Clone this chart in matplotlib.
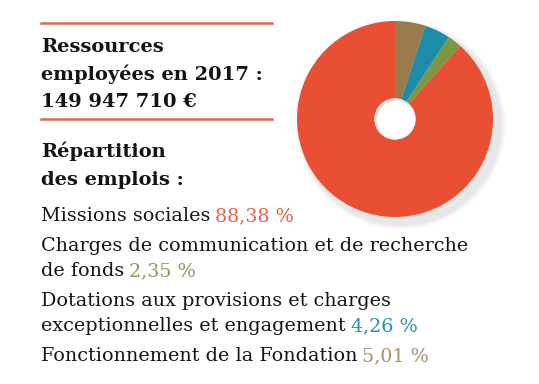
"""Ressources employées 2017 - donut + texte."""
import matplotlib
matplotlib.use("Agg")
import matplotlib.pyplot as plt
from matplotlib.patches import Circle

# Data (ordre de dessin : sens horaire depuis midi)
labels = [
    "Fonctionnement de la Fondation",
    "Dotations aux provisions et charges\nexceptionnelles et engagement",
    "Charges de communication et de recherche\nde fonds",
    "Missions sociales",
]
values = [5.01, 4.26, 2.35, 88.38]
pct_labels = ["5,01 %", "4,26 %", "2,35 %", "88,38 %"]
slice_colors = ["#9a7b4b", "#1d8ca9", "#7a983f", "#e84f33"]
text_colors = ["#a8916a", "#2a90a8", "#8a9a5b", "#e8604a"]

W, H = 539, 384
fig = plt.figure(figsize=(W / 100, H / 100), dpi=100)
fig.patch.set_facecolor("white")

FONT = "DejaVu Serif"
line_color = "#dc6a50"


def fx(px):
    return px / W


def fy(py):
    return 1 - py / H


# Donut
cx, cy, r = 395, 119, 98
pad = 12
ax = fig.add_axes([fx(cx - r - pad), fy(cy + r + pad), 2 * (r + pad) / W, 2 * (r + pad) / H])
ax.axis("off")
# ombre douce
for s, a in [(1.07, 0.025), (1.05, 0.03), (1.03, 0.04)]:
    ax.add_patch(Circle((0.06, -0.06), s, color="#000000", alpha=a, lw=0, zorder=0))
ax.pie(values, colors=slice_colors, startangle=90, counterclock=False,
       radius=1.0, wedgeprops=dict(width=0.79, linewidth=0))
ax.add_patch(Circle((0, 0), 0.21, color="#e6e6e6", lw=0, zorder=5))
ax.add_patch(Circle((0.01, -0.01), 0.195, color="white", lw=0, zorder=6))
lim = (r + pad) / r
ax.set_xlim(-lim, lim)
ax.set_ylim(-lim, lim)

# Lignes décoratives
for y in [23, 119]:
    fig.add_artist(plt.Line2D([fx(41), fx(272)], [fy(y), fy(y)], color=line_color, lw=1.8))

# Titres
title_kw = dict(fontsize=14, fontweight="bold", family=FONT, color="#141414", va="baseline")
fig.text(fx(41), fy(52), "Ressources", **title_kw)
fig.text(fx(41), fy(80), "employées en 2017 :", **title_kw)
fig.text(fx(41), fy(107), "149 947 710 €", **title_kw)
fig.text(fx(41), fy(157), "Répartition", **title_kw)
fig.text(fx(41), fy(185), "des emplois :", **title_kw)

# Légende en texte
body_size = 13.8
body_kw = dict(fontsize=body_size, family=FONT, color="#141414", va="baseline")
rows = [
    (3, [221]),
    (2, [251, 276]),
    (1, [306, 331]),
    (0, [361]),
]
renderer = fig.canvas.get_renderer()
for idx, ys in rows:
    lines = labels[idx].split("\n")
    last = None
    for line, y in zip(lines, ys):
        last = fig.text(fx(41), fy(y), line, **body_kw)
    ext = last.get_window_extent(renderer=renderer)
    fig.text(fx(ext.x1 + 5), fy(ys[-1]), pct_labels[idx],
             fontsize=body_size, family=FONT, color=text_colors[idx], va="baseline")

fig.savefig("out.png", dpi=100)
